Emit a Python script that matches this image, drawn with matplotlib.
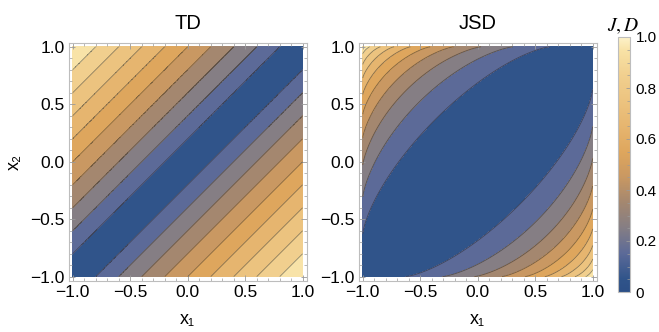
import numpy as np
import matplotlib
matplotlib.use("Agg")
import matplotlib.pyplot as plt
from matplotlib.colors import LinearSegmentedColormap, Normalize
from matplotlib.cm import ScalarMappable

plt.rcParams['font.family'] = ['Liberation Sans', 'DejaVu Sans']
plt.rcParams['mathtext.fontset'] = 'stix'

# contour levels and ticks
levels = [0.0, 0.1, 0.2, 0.3, 0.4, 0.5, 0.6, 0.7, 0.8, 0.9, 1.0]
axis_ticks = [-1.0, -0.5, 0.0, 0.5, 1.0]
axis_ticklabels = ['\u22121.0', '\u22120.5', '0.0', '0.5', '1.0']
cbar_ticks = [0.0, 0.2, 0.4, 0.6, 0.8, 1.0]
cbar_ticklabels = ['0', '0.2', '0.4', '0.6', '0.8', '1.0']
titles = ['TD', 'JSD']

# colour gradient (Mathematica-like default density gradient)
cmap_positions = [0.0, 0.05, 0.15, 0.25, 0.35, 0.45, 0.55, 0.65, 0.75, 0.85, 0.95, 1.0]
cmap_colors = ['#2c4f86', '#30548a', '#5c6a98', '#857e84', '#a4876f', '#c99862',
               '#dea65d', '#e6b56f', '#ecc37f', '#f1cf8e', '#f8e2a6', '#fdf2c9']
cmap = LinearSegmentedColormap.from_list('m10', list(zip(cmap_positions, cmap_colors)))
norm = Normalize(0, 1)


def entropy(p):
    p = np.clip(p, 1e-12, 1 - 1e-12)
    return -(p * np.log2(p) + (1 - p) * np.log2(1 - p))


def trace_distance(x1, x2):
    return np.abs(x1 - x2) / 2


def js_divergence(x1, x2):
    p = (1 + x1) / 2
    q = (1 + x2) / 2
    return entropy((p + q) / 2) - (entropy(p) + entropy(q)) / 2


grid = np.linspace(-1, 1, 401)
X1, X2 = np.meshgrid(grid, grid)
fields = [trace_distance(X1, X2), js_divergence(X1, X2)]

W, H = 659, 332
fig = plt.figure(figsize=(W / 100, H / 100), dpi=100)

frame_color = '#bdbdbd'
tick_color = '#9a9a9a'
lefts = [68.7, 358.7]
for i, (left, Z) in enumerate(zip(lefts, fields)):
    ax = fig.add_axes([left / W, (H - 280.7) / H, 238 / W, 238 / H])
    ax.contourf(X1, X2, Z, levels=levels, cmap=cmap, norm=norm)
    ax.contour(X1, X2, Z, levels=levels[1:-1], colors='#222222', linewidths=0.6, alpha=0.5)
    ax.set_xlim(-1.035, 1.035)
    ax.set_ylim(-1.035, 1.035)
    ax.set_xticks(axis_ticks)
    ax.set_xticklabels(axis_ticklabels)
    ax.set_yticks(axis_ticks)
    ax.set_yticklabels(axis_ticklabels)
    ax.set_xticks(np.arange(-1.0, 1.01, 0.1), minor=True)
    ax.set_yticks(np.arange(-1.0, 1.01, 0.1), minor=True)
    ax.tick_params(which='both', direction='in', top=True, right=True,
                   color=tick_color, labelsize=12.5, pad=3)
    ax.tick_params(which='major', length=4, width=0.6)
    ax.tick_params(which='minor', length=2, width=0.5)
    for s in ax.spines.values():
        s.set_color(frame_color)
        s.set_linewidth(0.8)
    ax.set_title(titles[i], fontsize=14.5, pad=10)
    ax.set_xlabel('x\u2081', fontsize=13, labelpad=8)
    if i == 0:
        ax.set_ylabel('x\u2082', fontsize=13, labelpad=5)

# colour bar
cax = fig.add_axes([617.5 / W, (H - 292) / H, 12.5 / W, 255 / H])
cb = fig.colorbar(ScalarMappable(norm=norm, cmap=cmap), cax=cax)
cb.set_ticks(cbar_ticks)
cb.set_ticklabels(cbar_ticklabels)
cax.set_yticks(np.arange(0, 1.01, 0.05), minor=True)
cax.tick_params(which='both', direction='in', color=tick_color, labelsize=11, pad=4)
cax.tick_params(which='major', length=3, width=0.6)
cax.tick_params(which='minor', length=2, width=0.5)
cb.outline.set_edgecolor(frame_color)
cb.outline.set_linewidth(0.8)
fig.text(623 / W, 1 - 26 / H, r'$J, D$', fontsize=14, ha='center', va='center')

fig.savefig('out.png', dpi=100)
